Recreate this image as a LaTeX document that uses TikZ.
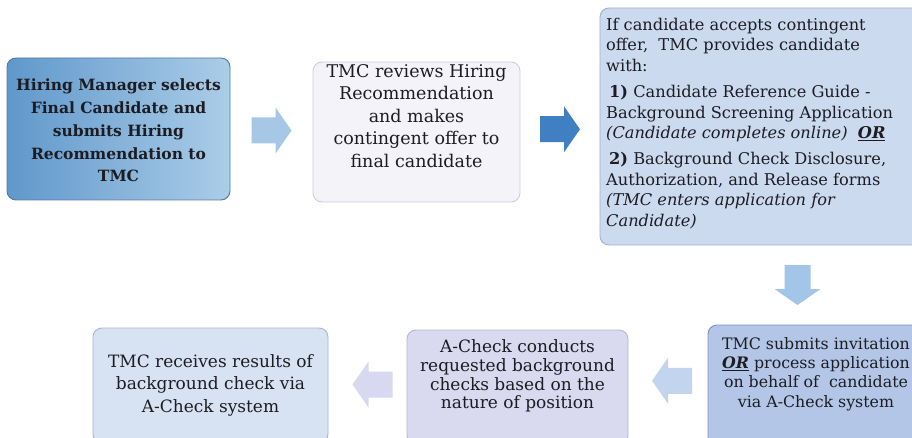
\documentclass[tikz,border=0pt]{standalone}
\usepackage{fontspec}
\setmainfont{DejaVu Serif}
\usetikzlibrary{calc}
\definecolor{ink}{HTML}{1C1C22}
\definecolor{bOneL}{HTML}{6098CB}
\definecolor{bOneR}{HTML}{ABCDE8}
\definecolor{bOneD}{HTML}{56799E}
\definecolor{bTwo}{HTML}{F3F3F9}
\definecolor{bTwoD}{HTML}{CDCEDA}
\definecolor{bThree}{HTML}{CCDAEF}
\definecolor{bThreeD}{HTML}{9EB1CC}
\definecolor{bFour}{HTML}{B3C6E7}
\definecolor{bFourD}{HTML}{7D93B6}
\definecolor{bFive}{HTML}{D9D9EF}
\definecolor{bFiveD}{HTML}{B6B6CF}
\definecolor{bSix}{HTML}{D7E3F2}
\definecolor{bSixD}{HTML}{A9B6C9}
\definecolor{aOne}{HTML}{A7C7E7}
\definecolor{aTwo}{HTML}{3F7FC2}
\definecolor{aThree}{HTML}{A3C5E7}
\definecolor{aFour}{HTML}{C2D4EE}
\definecolor{aFive}{HTML}{D8D9F0}
\tikzset{
  box/.style={rounded corners=9pt, line width=0.9pt, inner sep=0pt},
  txt/.style={text=ink, align=center, inner sep=0pt},
  barrow/.pic={
    \path[pic actions] (-20,-13) -- (4,-13) -- (4,-23) -- (20,0) -- (4,23) -- (4,13) -- (-20,13) -- cycle;
  }
}
\begin{document}
\begin{tikzpicture}[x=1pt,y=-1pt]
\useasboundingbox (0,0) rectangle (912,438);
\fill[white] (0,0) rectangle (912,438);

% boxes
\node[box, draw=bOneD, left color=bOneL, right color=bOneR, minimum width=223pt, minimum height=142pt] (b1) at (118.5,129) {};
\node[box, draw=bTwoD, fill=bTwo, minimum width=207pt, minimum height=140pt] (b2) at (416.5,132) {};
\node[box, draw=bThreeD, fill=bThree, minimum width=325pt, minimum height=237pt] (b3) at (762.5,126.5) {};
\node[box, draw=bFourD, fill=bFour, minimum width=217pt, minimum height=130pt] (b4) at (816.5,390) {};
\node[box, draw=bFiveD, fill=bFive, minimum width=221pt, minimum height=115pt] (b5) at (517.5,387.5) {};
\node[box, draw=bSixD, fill=bSix, minimum width=235pt, minimum height=115pt] (b6) at (210.5,385.5) {};

% texts
\node[txt, font=\fontsize{15.5}{22.8}\selectfont\bfseries] (t1) at (118.5,130.5) {Hiring Manager selects\\Final Candidate and\\submits Hiring\\Recommendation to\\TMC};
\node[txt, font=\fontsize{17.5}{22.5}\selectfont] (t2) at (416.5,116) {TMC reviews Hiring\\Recommendation\\and makes\\contingent offer to\\final candidate};
\node[txt, align=left, anchor=north west, font=\fontsize{16.2}{20.4}\selectfont] (t3) at (606,18) {If candidate accepts contingent\\offer,\ \ TMC provides candidate\\with:\\[6pt]
\hspace{3pt}\textbf{1)} Candidate Reference Guide -\\Background Screening Application\\\textit{(Candidate completes online)}\ \ \textbf{\textit{\underline{OR}}}\\[6pt]
\hspace{3pt}\textbf{2)} Background Check Disclosure,\\Authorization, and Release forms\\\textit{(TMC enters application for}\\\textit{Candidate)}};
\node[txt, font=\fontsize{15.8}{19.2}\selectfont] (t4) at (816,374) {TMC submits invitation\\\textbf{\textit{\underline{OR}}} process application\\on behalf of\ \ candidate\\via A-Check system};
\node[txt, font=\fontsize{17}{18.8}\selectfont] (t5) at (517.5,376) {A-Check conducts\\requested background\\checks based on the\\nature of position};
\node[txt, font=\fontsize{17}{22.5}\selectfont] (t6) at (210.5,385) {TMC receives results of\\background check via\\A-Check system};

% block arrows
\coordinate (a1) at ($(b1.east)!0.5!(b2.west)$);
\coordinate (a2) at ($(b2.east)!0.5!(b3.west)$);
\coordinate (a3) at ($(b3.south)!0.5!(b4.north)+(8,0)$);
\coordinate (a4) at ($(b5.east)!0.5!(b4.west)+(4,-8)$);
\coordinate (a5) at ($(b6.east)!0.5!(b5.west)+(5,-2)$);
\pic[fill=aOne] at (a1) {barrow};
\pic[fill=aTwo] at (a2) {barrow};
\pic[fill=aThree, rotate=-90] at (a3) {barrow};
\pic[fill=aFour, rotate=180] at (a4) {barrow};
\pic[fill=aFive, rotate=180] at (a5) {barrow};
\end{tikzpicture}
\end{document}
